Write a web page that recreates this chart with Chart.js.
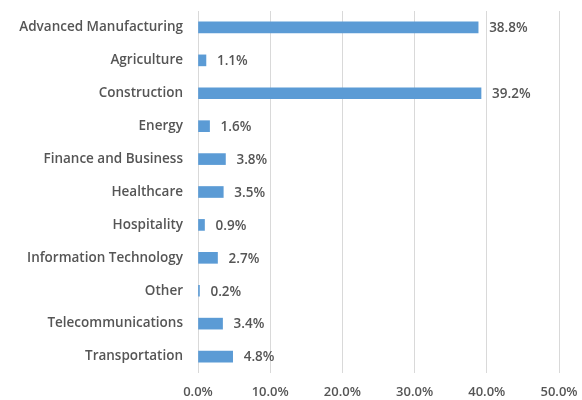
<!DOCTYPE html>
<html>
<head>
<meta charset="utf-8">
<script src="https://cdn.jsdelivr.net/npm/chart.js@4"></script>
<style>
  body { margin: 0; background: #fff; }
  #wrap { width: 582px; height: 400px; }
</style>
</head>
<body>
<div id="wrap"><canvas id="c"></canvas></div>
<script>
// sectors and their share (%)
const categories = ['Advanced Manufacturing', 'Agriculture', 'Construction', 'Energy', 'Finance and Business',
    'Healthcare', 'Hospitality', 'Information Technology', 'Other', 'Telecommunications', 'Transportation']
const shares = [38.8, 1.1, 39.2, 1.6, 3.8, 3.5, 0.9, 2.7, 0.2, 3.4, 4.8]
const xTicks = [0, 10, 20, 30, 40, 50]

const FONT = "'Open Sans', sans-serif"

// draws the value next to the end of every bar
const barLabels = {
    id: 'barLabels',
    afterDatasetsDraw(chart) {
        const ctx = chart.ctx
        const meta = chart.getDatasetMeta(0)
        ctx.save()
        ctx.font = '600 13.5px ' + FONT
        ctx.fillStyle = '#555555'
        ctx.textAlign = 'left'
        ctx.textBaseline = 'middle'
        meta.data.forEach(function (bar, i) {
            ctx.fillText(shares[i].toFixed(1) + '%', bar.x + 11, bar.y + 1)
        })
        ctx.restore()
    }
}

new Chart(document.getElementById('c'), {
    type: 'bar',
    data: {
        labels: categories,
        datasets: [{
            data: shares,
            backgroundColor: '#5b9bd5',
            barThickness: 11
        }]
    },
    options: {
        indexAxis: 'y',
        responsive: true,
        maintainAspectRatio: false,
        animation: false,
        layout: { padding: { top: 11, right: 23, left: 0, bottom: 0 } },
        plugins: { legend: { display: false }, tooltip: { enabled: false } },
        scales: {
            x: {
                min: 0,
                max: 50,
                afterBuildTicks: function (scale) {
                    scale.ticks = xTicks.map(v => ({ value: v }))
                },
                afterFit: function (scale) {
                    scale.height = 27
                    scale.paddingLeft = 0
                    scale.paddingRight = 0
                },
                grid: { color: '#d9d9d9', drawTicks: false },
                border: { display: false },
                ticks: {
                    padding: 11,
                    color: '#555555',
                    font: { family: FONT, size: 13, weight: '600' },
                    callback: v => v.toFixed(1) + '%'
                }
            },
            y: {
                afterFit: function (scale) {
                    scale.width = 198
                    scale.paddingTop = 0
                    scale.paddingBottom = 0
                },
                grid: { display: false },
                border: { display: false },
                ticks: {
                    padding: 7,
                    color: '#555555',
                    font: { family: FONT, size: 13.5, weight: '600' }
                }
            }
        }
    },
    plugins: [barLabels]
})
</script>
</body>
</html>
